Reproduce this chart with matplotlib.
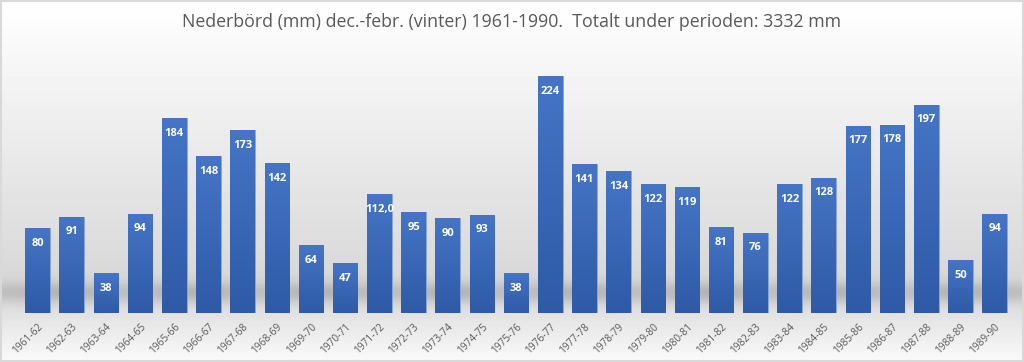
import numpy as np
import matplotlib.pyplot as plt
from matplotlib.colors import LinearSegmentedColormap

seasons = ['1961-62', '1962-63', '1963-64', '1964-65', '1965-66', '1966-67', '1967-68',
           '1968-69', '1969-70', '1970-71', '1971-72', '1972-73', '1973-74', '1974-75',
           '1975-76', '1976-77', '1977-78', '1978-79', '1979-80', '1980-81', '1981-82',
           '1982-83', '1983-84', '1984-85', '1985-86', '1986-87', '1987-88', '1988-89',
           '1989-90']
values = [80, 91, 38, 94, 184, 148, 173, 142, 64, 47, 112, 95, 90, 93, 38,
          224, 141, 134, 122, 119, 81, 76, 122, 128, 177, 178, 197, 50, 94]
labels = ['80', '91', '38', '94', '184', '148', '173', '142', '64', '47', '112,0', '95',
          '90', '93', '38', '224', '141', '134', '122', '119', '81', '76', '122', '128',
          '177', '178', '197', '50', '94']
title = 'Nederbörd (mm) dec.-febr. (vinter) 1961-1990.  Totalt under perioden: 3332 mm'

plt.rcParams['font.family'] = ['Open Sans', 'DejaVu Sans']

fig = plt.figure(figsize=(10.24, 3.62), dpi=100)

# background: light gradient with a soft shadow band near the floor
bg = fig.add_axes([0, 0, 1, 1])
yy = np.linspace(0, 1, 362)[:, None]
xx = np.linspace(0, 1, 1024)[None, :]
shade = 1 - 0.16 * np.clip(yy / 0.8, 0, 1) + 0.14 * np.clip((yy - 0.8) / 0.2, 0, 1)
band = np.exp(-((yy - 0.81) / 0.03) ** 2) * (0.7 + 0.3 * np.sin(xx * 25) ** 2)
img = np.clip(shade - 0.14 * band, 0, 1) * np.ones_like(xx)
bg.imshow(img, cmap='gray', vmin=0, vmax=1, aspect='auto', extent=[0, 1, 1, 0])
bg.set_xlim(0, 1)
bg.set_ylim(1, 0)
bg.axis('off')
fig.patches.append(plt.Rectangle((0.001, 0.002), 0.998, 0.996, transform=fig.transFigure,
                                 fill=False, ec='#d9d9d9', lw=1.5))

ax = fig.add_axes([0.02, 0.1354, 0.968, 0.7307])
ax.set_facecolor('none')
x = np.arange(len(values))
n = len(values)
bars = ax.bar(x, values, width=0.72, color='#4472c4', edgecolor='#8aa8dc', lw=0.6, zorder=2)

cmap = LinearSegmentedColormap.from_list('b', ['#2e5aa6', '#4675c6'])
grad = np.linspace(0, 1, 100)[:, None]
for b in bars:
    im = ax.imshow(grad, cmap=cmap, aspect='auto', origin='lower', zorder=2.5,
                   extent=[b.get_x(), b.get_x() + b.get_width(), 0, b.get_height()])
    im.set_clip_path(b)

for xi, v, lab in zip(x, values, labels):
    ax.annotate(lab, (xi, v), xytext=(0, -11), textcoords='offset points', ha='center',
                va='center', color='white', fontsize=8, fontweight='bold', zorder=3)

ax.set_ylim(0, 250)
ax.set_xlim(-0.5, n - 0.5)
ax.set_xticks(x)
ax.set_xticklabels(seasons, rotation=45, ha='right', rotation_mode='anchor',
                   fontsize=7.3, color='#595959')
ax.tick_params(length=0, pad=6)
ax.set_yticks([])
for s in ax.spines.values():
    s.set_visible(False)

fig.text(0.5, 0.938, title, ha='center', va='center', fontsize=12.8, color='#595959')

fig.savefig('out.png', dpi=100)
